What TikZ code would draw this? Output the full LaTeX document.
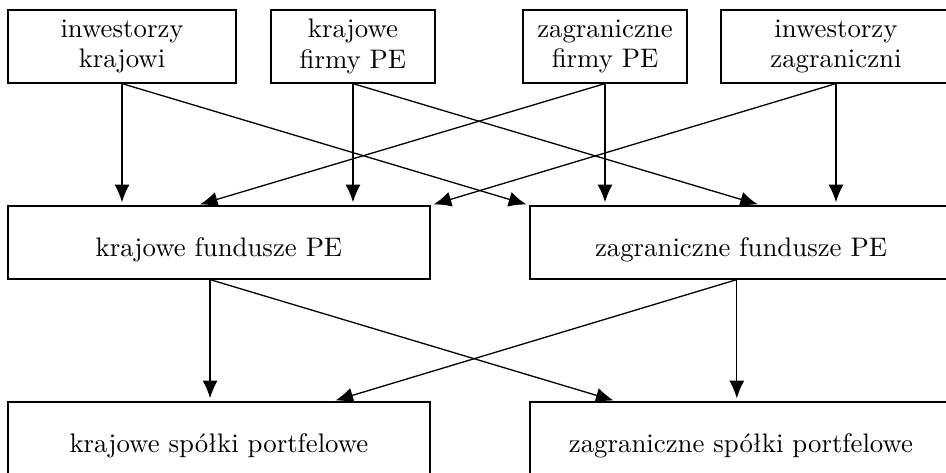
\documentclass[tikz,border=0pt]{standalone}
\usepackage{amsmath}
\usepackage{amssymb}
\usetikzlibrary{arrows.meta,calc}

\tikzset{
  box/.style={draw, line width=0.5pt, align=center, minimum height=0.986cm, inner sep=2pt,
    font=\fontsize{10.3}{11.6}\selectfont},
  flow/.style={-{Latex[length=6.8pt,width=5.8pt]}, line width=0.5pt, shorten >=1.2pt}
}

\begin{document}
\begin{tikzpicture}

\useasboundingbox (0,0) rectangle (12.784,6.392);

\node[box, minimum width=3.081cm] (ik) at (1.649,5.764) {inwestorzy\\krajowi};
\node[box, minimum width=2.216cm] (kf) at (4.770,5.764) {krajowe\\firmy PE};
\node[box, minimum width=2.216cm] (zf) at (8.176,5.764) {zagraniczne\\firmy PE};
\node[box, minimum width=3.108cm] (iz) at (11.297,5.764) {inwestorzy\\zagraniczni};

\node[box, minimum width=5.703cm, text height=12pt, text depth=1pt] (kfund) at (2.959,3.115) {krajowe fundusze PE};
\node[box, minimum width=5.703cm, text height=12pt, text depth=1pt] (zfund) at (10.014,3.115) {zagraniczne fundusze PE};

\node[box, minimum width=5.703cm, text height=12pt, text depth=1pt] (ks) at (2.959,0.466) {krajowe spółki portfelowe};
\node[box, minimum width=5.703cm, text height=12pt, text depth=1pt] (zs) at (10.014,0.466) {zagraniczne spółki portfelowe};

\draw[flow] (ik.south) -- (ik.south |- kfund.north);
\draw[flow] (ik.south) -- (zfund.north west);
\draw[flow] (kf.south) -- (kf.south |- kfund.north);
\draw[flow] (kf.south) -- ($(zfund.north west)!0.547!(zfund.north east)$);
\draw[flow] (zf.south) -- ($(kfund.north west)!0.448!(kfund.north east)$);
\draw[flow] (zf.south) -- (zf.south |- zfund.north);
\draw[flow] (iz.south) -- (kfund.north east);
\draw[flow] (iz.south) -- (iz.south |- zfund.north);

\coordinate (kout) at ($(kfund.south west)!0.479!(kfund.south east)$);
\coordinate (zout) at ($(zfund.south west)!0.49!(zfund.south east)$);

\draw[flow] (kout) -- (kout |- ks.north);
\draw[flow] (kout) -- ($(zs.north west)!0.206!(zs.north east)$);
\draw[flow] (zout) -- ($(ks.north west)!0.768!(ks.north east)$);
\draw[flow] (zout) -- (zout |- zs.north);

\end{tikzpicture}
\end{document}
